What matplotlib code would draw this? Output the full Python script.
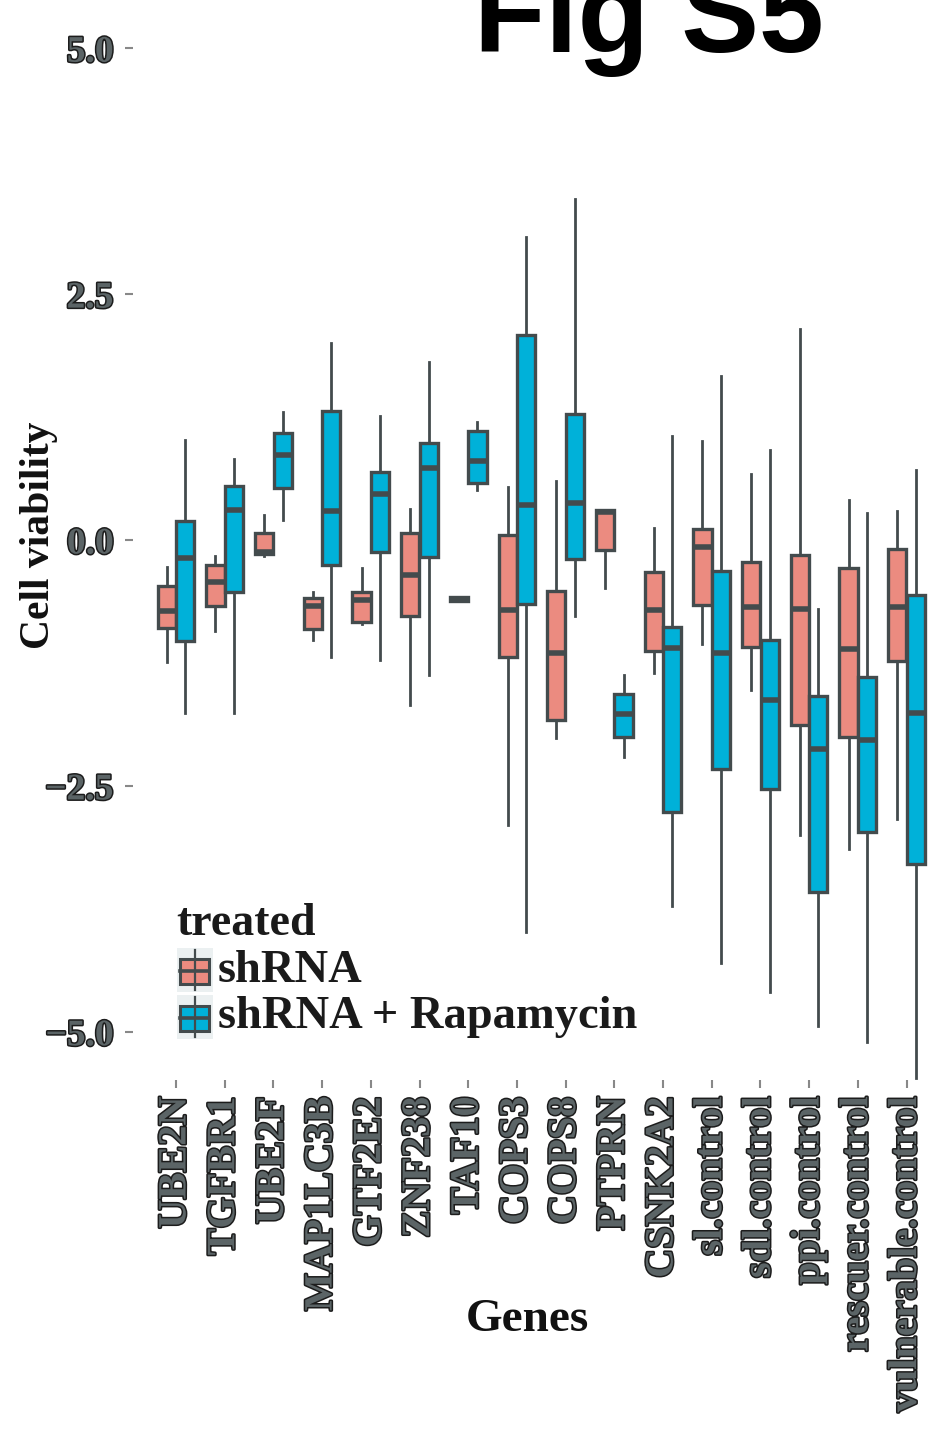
import matplotlib
matplotlib.use("Agg")
import matplotlib.pyplot as plt
import matplotlib.patheffects as pe
from matplotlib.patches import Rectangle
from matplotlib.lines import Line2D

genes = ["UBE2N", "TGFBR1", "UBE2F", "MAP1LC3B", "GTF2E2", "ZNF238", "TAF10",
         "COPS3", "COPS8", "PTPRN", "CSNK2A2", "sl.control", "sdl.control",
         "ppi.control", "rescuer.control", "vulnerable.control"]
treatments = ["shRNA", "shRNA + Rapamycin"]

# five-number summaries per gene: whisker low, Q1, median, Q3, whisker high
shrna_wlo = [-1.24, -0.93, -0.16, -1.02, -0.85, -1.68, -0.62, -2.90, -2.01, -0.49, -1.35, -1.06, -1.53, -3.00, -3.14, -2.84]
shrna_q1  = [-0.89, -0.67, -0.14, -0.90, -0.83, -0.77, -0.62, -1.19, -1.83, -0.10, -1.125, -0.66, -1.085, -1.88, -2.00, -1.23]
shrna_med = [-0.72, -0.43, -0.12, -0.67, -0.61, -0.36, -0.60, -0.715, -1.15, 0.285, -0.715, -0.07, -0.68, -0.70, -1.11, -0.68]
shrna_q3  = [-0.465, -0.25, 0.07, -0.59, -0.53, 0.07, -0.58, 0.055, -0.515, 0.30, -0.33, 0.11, -0.22, -0.15, -0.28, -0.09]
shrna_whi = [-0.27, -0.16, 0.25, -0.53, -0.28, 0.32, -0.58, 0.54, 0.60, 0.30, 0.12, 1.005, 0.67, 2.15, 0.41, 0.29]

rapa_wlo = [-1.76, -1.76, 0.20, -1.19, -1.22, -1.37, 0.51, -3.99, -0.77, -2.21, -3.72, -4.30, -4.60, -4.94, -5.10, -5.47]
rapa_q1  = [-1.03, -0.53, 0.53, -0.25, -0.12, -0.17, 0.58, -0.65, -0.19, -2.00, -2.77, -2.33, -2.53, -3.58, -2.97, -3.29]
rapa_med = [-0.18, 0.30, 0.86, 0.29, 0.47, 0.73, 0.80, 0.356, 0.38, -1.77, -1.10, -1.15, -1.63, -2.12, -2.03, -1.76]
rapa_q3  = [0.19, 0.55, 1.09, 1.31, 0.69, 0.99, 1.11, 2.08, 1.28, -1.57, -0.885, -0.32, -1.02, -1.59, -1.39, -0.56]
rapa_whi = [1.02, 0.82, 1.30, 2.00, 1.26, 1.81, 1.20, 3.085, 3.47, -1.37, 1.06, 1.67, 0.91, -0.70, 0.27, 0.71]

yticks = [-5.0, -2.5, 0.0, 2.5, 5.0]

RED = "#EB8B80"
BLUE = "#00B1D9"
EDGE = "#434B4D"
SERIF = "Liberation Serif"

W, H = 932, 1432
fig = plt.figure(figsize=(W / 100, H / 100), dpi=100)
ax = fig.add_axes([133 / W, (H - 1080) / H, 799 / W, 1080 / H])

def stats(wlo, q1, med, q3, whi):
    return [dict(whislo=a, q1=b, med=c, q3=d, whishi=e, fliers=[])
            for a, b, c, d, e in zip(wlo, q1, med, q3, whi)]

offset = 0.19
bw = 0.375
for st, col, off in [(stats(shrna_wlo, shrna_q1, shrna_med, shrna_q3, shrna_whi), RED, -offset),
                     (stats(rapa_wlo, rapa_q1, rapa_med, rapa_q3, rapa_whi), BLUE, offset)]:
    ax.bxp(st, positions=[i + off for i in range(len(genes))], widths=bw,
           patch_artist=True, showfliers=False, showcaps=False,
           boxprops=dict(facecolor=col, edgecolor=EDGE, linewidth=2.4),
           medianprops=dict(color=EDGE, linewidth=4.0, solid_capstyle="butt"),
           whiskerprops=dict(color=EDGE, linewidth=2.0))

ax.set_xlim((133 - 176) / 48.7, (932 - 176) / 48.7)
ax.set_ylim(-5.49, 5.49)
for s in ax.spines.values():
    s.set_visible(False)

ax.set_xticks(range(len(genes)))
ax.set_xticklabels(genes, rotation=90, fontsize=29, fontfamily=SERIF, fontweight="bold")
ax.set_yticks(yticks)
ax.set_yticklabels([f"{v:.1f}".replace("-", "\u2212") for v in yticks],
                   fontsize=27, fontfamily=SERIF, fontweight="bold")
ax.tick_params(axis="both", colors="#888888", length=6, width=1.5)
ax.tick_params(axis="x", pad=6, labelcolor="#5b6466")
ax.tick_params(axis="y", pad=8, labelcolor="#5b6466")
effects = [pe.withStroke(linewidth=2.2, foreground="#1c1c1c")]
for lbl in ax.get_xticklabels() + ax.get_yticklabels():
    lbl.set_path_effects(effects)

ax.set_ylabel("Cell viability", fontsize=30, fontfamily=SERIF, fontweight="bold", color="#111111")
ax.yaxis.set_label_coords((58 - 133) / 799, (1080 - 535) / 1080)

fig.text(527 / W, 1 - 1320 / H, "Genes", fontsize=34, fontfamily=SERIF, fontweight="bold",
         color="#111111", ha="center", va="center")

fig.text(649 / W, 1 - 52 / H, "Fig S5", fontsize=84, fontfamily="Liberation Sans",
         fontweight="bold", color="black", ha="center", va="baseline")

# legend (manual, in figure pixel coordinates)
def fx(x):
    return x / W

def fy(y):
    return 1 - y / H

fig.text(fx(176), fy(935), "treated", fontsize=33, fontfamily=SERIF, fontweight="bold",
         color="#1a1a1a", ha="left", va="baseline")
for (top, col, label, base) in [(948, RED, treatments[0], 982), (995, BLUE, treatments[1], 1028)]:
    fig.patches.append(Rectangle((fx(177), fy(top + 44)), 36 / W, 44 / H,
                                 transform=fig.transFigure, facecolor="#EBF0F1", edgecolor="none"))
    fig.lines.append(Line2D([fx(194.5), fx(194.5)], [fy(top + 2), fy(top + 42)],
                            transform=fig.transFigure, color=EDGE, linewidth=1.6))
    fig.patches.append(Rectangle((fx(180), fy(top + 36)), 29 / W, 25 / H,
                                 transform=fig.transFigure, facecolor=col, edgecolor=EDGE, linewidth=2.2))
    fig.lines.append(Line2D([fx(180), fx(209)], [fy(top + 23), fy(top + 23)],
                            transform=fig.transFigure, color=EDGE, linewidth=2.6))
    fig.text(fx(218), fy(base), label, fontsize=33.5, fontfamily=SERIF, fontweight="bold",
             color="#1a1a1a", ha="left", va="baseline")

fig.savefig("out.png", dpi=100, facecolor="white")
